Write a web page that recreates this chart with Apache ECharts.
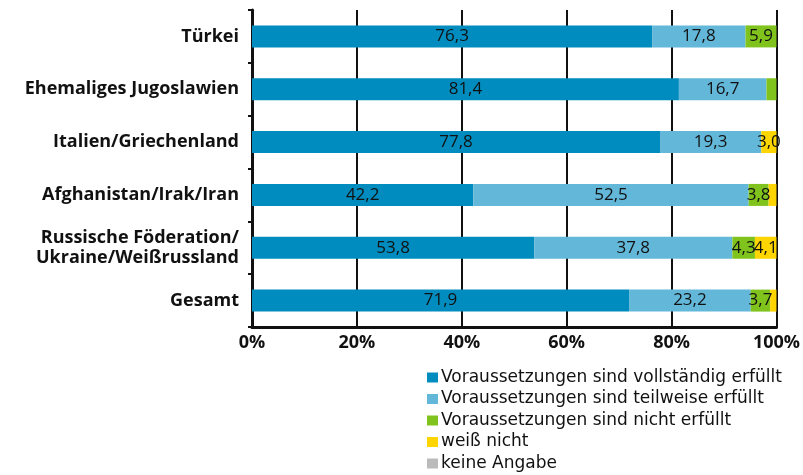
<!DOCTYPE html>
<html>
<head>
<meta charset="utf-8">
<script src="https://cdn.jsdelivr.net/npm/echarts@6/dist/echarts.min.js"></script>
<style>
  html, body { margin: 0; padding: 0; background: #fff; }
  #chart { width: 803px; height: 475px; }
</style>
</head>
<body>
<div id="chart"></div>
<script>
var categories = ['Türkei', 'Ehemaliges Jugoslawien', 'Italien/Griechenland', 'Afghanistan/Irak/Iran', 'Russische Föderation/\nUkraine/Weißrussland', 'Gesamt']
var vollstaendig = [76.3, 81.4, 77.8, 42.2, 53.8, 71.9]
var teilweise = [17.8, 16.7, 19.3, 52.5, 37.8, 23.2]
var nicht = [5.9, 1.9, 0, 3.8, 4.3, 3.7]
var weissNicht = [0, 0, 3.0, 1.5, 4.1, 1.2]
var keineAngabe = [0, 0, 0, 0, 0, 0]
var xTicks = [0, 20, 40, 60, 80, 100]

var font = '"Open Sans", "Noto Sans", sans-serif'

function makeSeries(name, data, color) {
  return {
    name: name,
    type: 'bar',
    stack: 'total',
    barWidth: 22,
    data: data,
    itemStyle: { color: color },
    label: {
      show: true,
      position: 'inside',
      color: '#111',
      fontFamily: font,
      fontSize: 17,
      formatter: function (p) {
        return p.value >= 2.5 ? p.value.toFixed(1).replace('.', ',') : ''
      }
    }
  }
}

var myChart = echarts.init(document.getElementById('chart'))
myChart.setOption({
  animation: false,
  grid: {
    left: 252,
    right: 25,
    top: 10,
    bottom: 148
  },
  xAxis: {
    type: 'value',
    min: xTicks[0],
    max: xTicks[xTicks.length - 1],
    interval: 20,
    axisLine: { show: true, lineStyle: { color: '#111', width: 3 } },
    axisTick: { show: false },
    splitLine: { show: true, lineStyle: { color: '#111', width: 2 } },
    axisLabel: {
      color: '#111',
      fontFamily: font,
      fontWeight: 'bold',
      fontSize: 18,
      margin: 7,
      formatter: '{value}%'
    }
  },
  yAxis: {
    type: 'category',
    inverse: true,
    data: categories,
    axisLine: { show: true, lineStyle: { color: '#111', width: 3 } },
    axisTick: { show: true, length: 4, lineStyle: { color: '#111', width: 2 } },
    axisLabel: {
      color: '#111',
      fontFamily: font,
      fontWeight: 'bold',
      fontSize: 18,
      lineHeight: 20,
      align: 'right',
      margin: 13
    }
  },
  legend: {
    orient: 'vertical',
    left: 427,
    top: 369,
    padding: 0,
    itemWidth: 11,
    itemHeight: 10,
    itemGap: 4.5,
    icon: 'rect',
    textStyle: {
      color: '#111',
      fontFamily: '"DejaVu Sans", sans-serif',
      fontSize: 17,
      lineHeight: 17,
      padding: [0, 0, 0, -2]
    }
  },
  series: [
    makeSeries('Voraussetzungen sind vollständig erfüllt', vollstaendig, '#008CBE'),
    makeSeries('Voraussetzungen sind teilweise erfüllt', teilweise, '#63B7D9'),
    makeSeries('Voraussetzungen sind nicht erfüllt', nicht, '#80C31C'),
    makeSeries('weiß nicht', weissNicht, '#FFD500'),
    makeSeries('keine Angabe', keineAngabe, '#BBBBBB')
  ]
})
</script>
</body>
</html>
